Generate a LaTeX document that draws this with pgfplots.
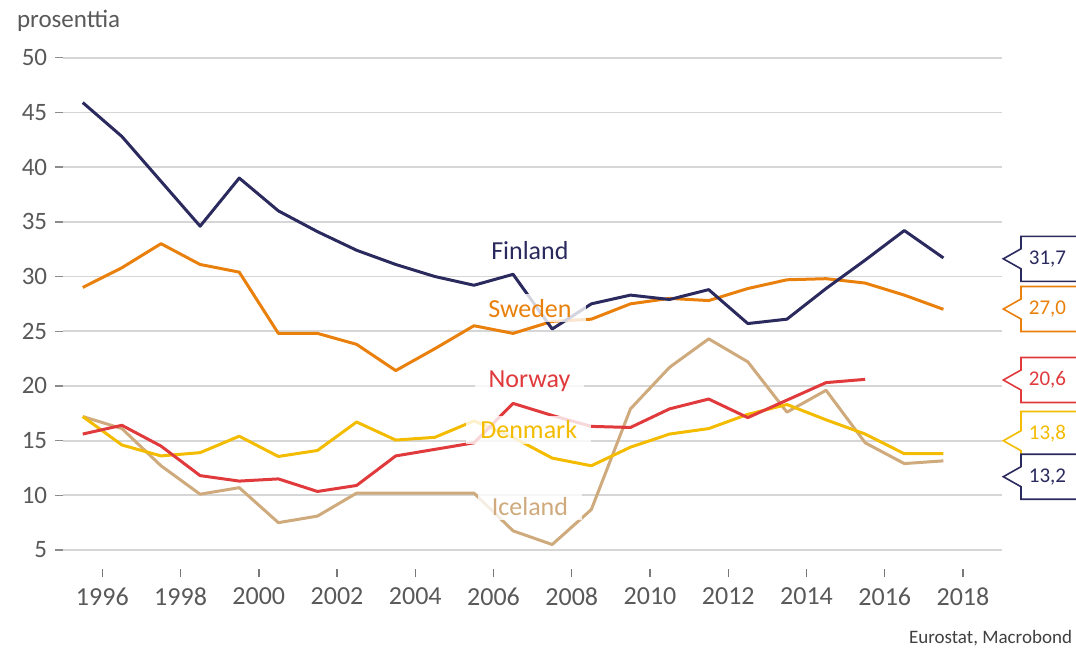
\documentclass[border=0pt]{standalone}
\usepackage{fontspec}
\setmainfont{Carlito}
\usepackage{pgfplots}
\pgfplotsset{compat=1.18}
\definecolor{fin}{RGB}{43,42,94}
\definecolor{swe}{RGB}{234,128,12}
\definecolor{nor}{RGB}{224,58,60}
\definecolor{den}{RGB}{244,188,0}
\definecolor{ice}{RGB}{206,170,124}
\definecolor{gridgray}{RGB}{214,214,214}
\definecolor{labgray}{RGB}{89,89,89}

\pgfplotstableread{
x y
1995.5 45.9
1996.5 42.8
1997.5 38.7
1998.5 34.6
1999.5 39.0
2000.5 36.0
2001.5 34.1
2002.5 32.4
2003.5 31.1
2004.5 30.0
2005.5 29.2
2006.5 30.2
2007.5 25.2
2008.5 27.5
2009.5 28.3
2010.5 27.9
2011.5 28.8
2012.5 25.7
2013.5 26.1
2014.5 28.9
2015.5 31.5
2016.5 34.2
2017.5 31.7
}\finland

\pgfplotstableread{
x y
1995.5 29.0
1996.5 30.8
1997.5 33.0
1998.5 31.1
1999.5 30.4
2000.5 24.8
2001.5 24.8
2002.5 23.8
2003.5 21.4
2004.5 23.4
2005.5 25.5
2006.5 24.8
2007.5 25.9
2008.5 26.1
2009.5 27.5
2010.5 28.0
2011.5 27.8
2012.5 28.9
2013.5 29.7
2014.5 29.8
2015.5 29.4
2016.5 28.3
2017.5 27.0
}\sweden

\pgfplotstableread{
x y
1995.5 15.6
1996.5 16.4
1997.5 14.5
1998.5 11.8
1999.5 11.3
2000.5 11.5
2001.5 10.35
2002.5 10.9
2003.5 13.6
2004.5 14.2
2005.5 14.8
2006.5 18.4
2007.5 17.3
2008.5 16.3
2009.5 16.2
2010.5 17.9
2011.5 18.8
2012.5 17.1
2013.5 18.7
2014.5 20.3
2015.5 20.6
}\norway

\pgfplotstableread{
x y
1995.5 17.2
1996.5 14.6
1997.5 13.6
1998.5 13.9
1999.5 15.4
2000.5 13.55
2001.5 14.1
2002.5 16.7
2003.5 15.05
2004.5 15.3
2005.5 16.8
2006.5 15.3
2007.5 13.4
2008.5 12.7
2009.5 14.4
2010.5 15.6
2011.5 16.1
2012.5 17.4
2013.5 18.3
2014.5 16.9
2015.5 15.6
2016.5 13.8
2017.5 13.8
}\denmark

\pgfplotstableread{
x y
1995.5 17.2
1996.5 16.1
1997.5 12.7
1998.5 10.1
1999.5 10.7
2000.5 7.5
2001.5 8.1
2002.5 10.2
2003.5 10.2
2004.5 10.2
2005.5 10.2
2006.5 6.75
2007.5 5.5
2008.5 8.7
2009.5 17.9
2010.5 21.7
2011.5 24.3
2012.5 22.2
2013.5 17.6
2014.5 19.6
2015.5 14.8
2016.5 12.9
2017.5 13.15
}\iceland

\newcommand{\callout}[5]{% color, center Y, tip Y, text, text color
  \draw[#1, line width=0.8pt, fill=white]
    (515pt,#2pt+11.25pt) -- (478.9pt,#2pt+11.25pt) -- (478.9pt,#3pt+5pt)
    -- (470.05pt,#3pt) -- (478.9pt,#3pt-5pt) -- (478.9pt,#2pt-11.25pt)
    -- (515pt,#2pt-11.25pt);
  \node[text=#5, font=\fontsize{10.5}{12}\selectfont, anchor=center] at (492.15pt,#2pt) {#4};
}

\begin{document}
\begin{tikzpicture}
\path[use as bounding box] (-31.6pt,-50pt) rectangle (506.4pt,275pt);
\begin{axis}[
  at={(0,0)}, anchor=south west,
  scale only axis, width=469.45pt, height=246.15pt,
  xmin=1995, xmax=2019, ymin=5, ymax=50,
  xtick={1996,1998,...,2018}, ytick={5,10,...,50},
  axis line style={draw=none},
  xtick pos=bottom, ytick pos=left, tick align=outside,
  major tick length=4pt,
  tick style={draw=gridgray, line width=0.8pt},
  ytick style={draw=labgray!70, line width=0.7pt},
  xtick style={yshift=-9.5pt, draw=labgray!80, line width=0.7pt},
  ymajorgrids, grid style={draw=gridgray, line width=0.9pt},
  clip=false,
  /pgf/number format/assume math mode=true,
  /pgf/number format/1000 sep={},
  xticklabel style={font=\fontsize{13}{15}\selectfont, text=labgray, yshift=-11.5pt},
  yticklabel style={font=\fontsize{12.5}{15}\selectfont, text=labgray, xshift=-0.5pt},
  every axis plot/.append style={line width=1.5pt, line join=round},
]
\addplot[ice] table[x=x,y=y] {\iceland};
\addplot[den] table[x=x,y=y] {\denmark};
\addplot[nor] table[x=x,y=y] {\norway};
\addplot[swe] table[x=x,y=y] {\sweden};
\addplot[fin] table[x=x,y=y] {\finland};

\tikzset{lab/.style={anchor=base, fill=white, fill opacity=0.8, text opacity=1, inner xsep=7pt, inner ysep=2.5pt, font=\fontsize{13}{15}\selectfont}}
\node[lab, text=fin] at (axis cs:2006.93,31.57) {Finland};
\node[lab, text=swe] at (axis cs:2006.93,26.27) {Sweden};
\node[lab, text=nor] at (axis cs:2006.92,19.84) {Norway};
\node[lab, text=den] at (axis cs:2006.90,15.15) {Denmark};
\node[lab, text=ice] at (axis cs:2006.93,8.20) {Iceland};
\end{axis}

\callout{fin}{145.6}{145.6}{31,7}{fin}
\callout{swe}{120.5}{120.5}{27,0}{swe}
\callout{nor}{85}{85}{20,6}{nor}
\callout{den}{58}{54.65}{13,8}{den}
\callout{fin}{36.65}{36.65}{13,2}{fin}

\node[anchor=base west, text=labgray, font=\fontsize{12.5}{15}\selectfont] at (-26.6pt,261.5pt) {prosenttia};
\node[anchor=base east, inner sep=0pt, text=black!75, font=\fontsize{9.5}{11}\selectfont] at (504.6pt,-46.5pt) {Eurostat, Macrobond};
\end{tikzpicture}
\end{document}
